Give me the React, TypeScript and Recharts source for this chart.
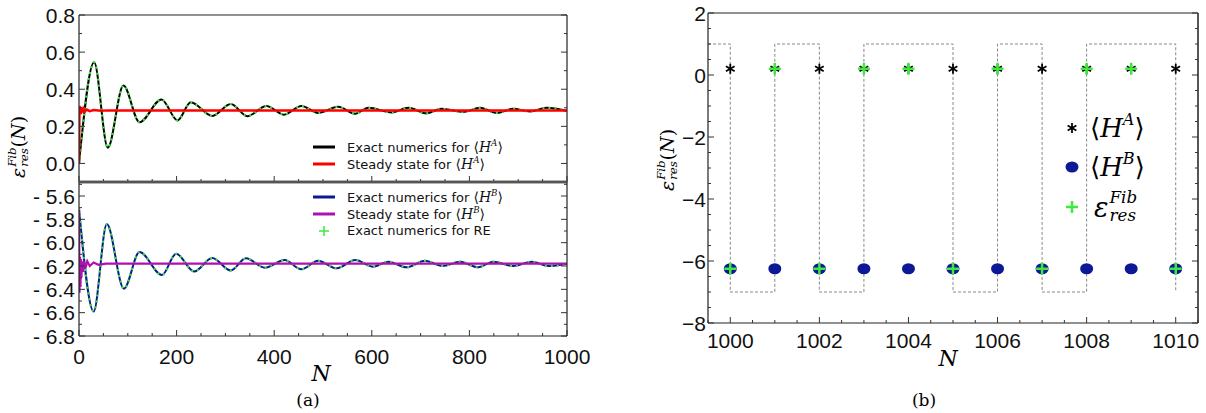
import React from 'react';
import { ComposedChart, Line, Scatter, XAxis, YAxis } from 'recharts';

// (a) upper: exact numerics for <H^A>, read at the peaks and troughs
const nA = [0, 31, 59, 91, 124, 169, 202, 229, 273, 311, 345, 384, 420, 456, 490, 531, 566, 593, 641, 675, 712, 743, 788, 822, 856, 890, 924, 958, 1000];
const hA = [0.0, 0.545, 0.085, 0.42, 0.222, 0.345, 0.232, 0.33, 0.256, 0.32, 0.255, 0.31, 0.263, 0.31, 0.272, 0.305, 0.268, 0.3, 0.275, 0.3, 0.27, 0.295, 0.278, 0.3, 0.272, 0.295, 0.28, 0.3, 0.283];
// steady state for <H^A>
const nSsA = [0, 1, 2, 3, 4, 5, 7, 9, 12, 16, 22, 30, 45, 60, 1000];
const ssA = [0.0, 0.31, 0.27, 0.305, 0.265, 0.3, 0.275, 0.295, 0.28, 0.29, 0.282, 0.288, 0.284, 0.286, 0.285];

// (a) lower: exact numerics for <H^B>
const nB = [0, 30, 57, 92, 124, 170, 199, 236, 273, 311, 342, 381, 421, 456, 490, 528, 566, 603, 634, 671, 709, 745, 781, 818, 849, 890, 928, 962, 1000];
const hB = [-5.71, -6.59, -5.84, -6.395, -6.08, -6.277, -6.095, -6.247, -6.131, -6.238, -6.134, -6.215, -6.149, -6.228, -6.155, -6.22, -6.149, -6.206, -6.163, -6.211, -6.155, -6.2, -6.163, -6.211, -6.163, -6.2, -6.163, -6.2, -6.18];
// steady state for <H^B>
const nSsB = [0, 1, 2, 3, 4, 5, 6, 8, 10, 13, 17, 22, 30, 40, 55, 1000];
const ssB = [-5.72, -6.43, -6.12, -6.38, -6.14, -6.3, -6.16, -6.25, -6.16, -6.22, -6.16, -6.2, -6.17, -6.19, -6.18, -6.18];

// (b) N = 1000 ... 1010
const nFib = [1000, 1001, 1002, 1003, 1004, 1005, 1006, 1007, 1008, 1009, 1010];
const hAFib = [0.2, 0.2, 0.2, 0.2, 0.2, 0.2, 0.2, 0.2, 0.2, 0.2, 0.2];
const hBFib = [-6.25, -6.25, -6.25, -6.25, -6.25, -6.25, -6.25, -6.25, -6.25, -6.25, -6.25];
const reFib = [-6.25, 0.2, -6.25, 0.2, 0.2, -6.25, 0.2, -6.25, 0.2, 0.2, -6.25];
const nStep = [999.5, 1000, 1001, 1002, 1003, 1004, 1005, 1006, 1007, 1008, 1009, 1010];
const stepFib = [1, -7, 1, -7, 1, 1, -7, 1, -7, 1, 1, -7];

// tick labels
const xMajorA = [0, 200, 400, 600, 800, 1000];
const yMajorUp = [0, 0.2, 0.4, 0.6, 0.8];
const yMajorLow = [-6.8, -6.6, -6.4, -6.2, -6.0, -5.8, -5.6];
const xMajorB = [1000, 1002, 1004, 1006, 1008, 1010];
const yMajorB = [-8, -6, -4, -2, 0, 2];

const range = (a: number, b: number, s: number) => {
  const out: number[] = [];
  for (let v = a; v <= b + 1e-9; v += s) out.push(Math.round(v * 1000) / 1000);
  return out;
};
const zip = (xs: number[], ys: number[]) => xs.map((n, i) => ({ n, v: ys[i] }));

const xMinorA = range(0, 1000, 50);
const yMinorUp = range(-0.1, 0.8, 0.1);
const yMinorLow = range(-6.8, -5.5, 0.1);
const xMinorB = range(999.5, 1010.5, 0.5);
const yMinorB = range(-8, 2, 0.5);

const TF = 'Liberation Sans, Arial, sans-serif';
const LF = 'DejaVu Sans, sans-serif';
const SERIF = 'DejaVu Serif, Liberation Serif, serif';
const isMajor = (m: number[], v: number) => m.some((x) => Math.abs(x - v) < 1e-6);

const bottomTick = (majors: number[], fmt?: (v: number) => string, gap = 20, fs = 21) => (p: any) => {
  const v = p.payload.value;
  const mj = isMajor(majors, v);
  return (
    <g>
      <line x1={p.x} x2={p.x} y1={p.y} y2={p.y - (mj ? 6 : 3)} stroke="#333" />
      {fmt && mj ? (
        <text x={p.x} y={p.y + gap} textAnchor="middle" dominantBaseline="central" fontSize={fs} fontFamily={TF} fill="#111">
          {fmt(v)}
        </text>
      ) : null}
    </g>
  );
};
const topTick = (majors: number[]) => (p: any) => {
  const mj = isMajor(majors, p.payload.value);
  return <line x1={p.x} x2={p.x} y1={p.y} y2={p.y + (mj ? 6 : 3)} stroke="#333" />;
};
const leftTick = (majors: number[], fmt: (v: number) => string, gap = 4, fs = 21) => (p: any) => {
  const v = p.payload.value;
  const mj = isMajor(majors, v);
  return (
    <g>
      <line x1={p.x} x2={p.x + (mj ? 6 : 3)} y1={p.y} y2={p.y} stroke="#333" />
      {mj ? (
        <text x={p.x - gap} y={p.y} textAnchor="end" dominantBaseline="central" fontSize={fs} fontFamily={TF} fill="#111">
          {fmt(v)}
        </text>
      ) : null}
    </g>
  );
};
const rightTick = (majors: number[]) => (p: any) => {
  const mj = isMajor(majors, p.payload.value);
  return <line x1={p.x} x2={p.x - (mj ? 6 : 3)} y1={p.y} y2={p.y} stroke="#333" />;
};

const GREEN = '#3ee83e';
const BLUE = '#0c1896';

const Asterisk = (p: any) => {
  const { cx, cy } = p;
  const r = 5;
  return (
    <g stroke="#000" strokeWidth={1.8}>
      <line x1={cx} x2={cx} y1={cy - r} y2={cy + r} />
      <line x1={cx - r * 0.87} x2={cx + r * 0.87} y1={cy - r / 2} y2={cy + r / 2} />
      <line x1={cx - r * 0.87} x2={cx + r * 0.87} y1={cy + r / 2} y2={cy - r / 2} />
    </g>
  );
};
const Plus = (p: any) => {
  const { cx, cy } = p;
  const r = 6;
  return (
    <g stroke={GREEN} strokeWidth={2.5}>
      <line x1={cx - r} x2={cx + r} y1={cy} y2={cy} />
      <line x1={cx} x2={cx} y1={cy - r} y2={cy + r} />
    </g>
  );
};
const Dot = (p: any) => <ellipse cx={p.cx} cy={p.cy} rx={6.5} ry={5.5} fill={BLUE} />;

const Bracket = ({ sup, size }: { sup: string; size: number }) => (
  <span style={{ fontFamily: SERIF, fontSize: size, whiteSpace: 'nowrap' }}>
    ⟨<i>H</i>
    <span style={{ fontSize: size * 0.62, fontStyle: 'italic', position: 'relative', top: -size * 0.45 }}>{sup}</span>⟩
  </span>
);

const Eps = ({ size, paren }: { size: number; paren: boolean }) => (
  <span style={{ fontFamily: SERIF, fontSize: size, whiteSpace: 'nowrap', display: 'inline-flex', alignItems: 'center' }}>
    <i>ε</i>
    <span style={{ display: 'inline-flex', flexDirection: 'column', fontSize: size * 0.62, lineHeight: 1.05, fontStyle: 'italic', marginLeft: 1 }}>
      <span>Fib</span>
      <span>res</span>
    </span>
    {paren ? (
      <span>
        (<i>N</i>)
      </span>
    ) : null}
  </span>
);

const abs = (style: React.CSSProperties): React.CSSProperties => ({ position: 'absolute', ...style });

const LineKey = ({ color }: { color: string }) => (
  <svg width={22} height={8} style={{ marginRight: 12 }}>
    <line x1={0} x2={22} y1={4} y2={4} stroke={color} strokeWidth={3} />
  </svg>
);

const legendRow: React.CSSProperties = { display: 'flex', alignItems: 'center', height: 16.7, fontFamily: LF, fontSize: 13, color: '#111' };

const axisLine = { stroke: '#222', strokeWidth: 1.2 };
const divider = { stroke: '#555', strokeWidth: 2.5 };

export default function App() {
  return (
    <div style={abs({ left: 0, top: 0, width: 1206, height: 413, background: '#fff' })}>
      {/* (a) upper */}
      <div style={abs({ left: 0, top: 0 })}>
        <ComposedChart width={600} height={190} margin={{ top: 14, right: 32, bottom: 7, left: 78 }}>
          <XAxis xAxisId={0} type="number" dataKey="n" domain={[0, 1000]} ticks={xMinorA} interval={0} tickSize={0} tickMargin={0} tickLine={false} height={1} axisLine={divider} tick={bottomTick(xMajorA)} allowDataOverflow />
          <XAxis xAxisId="t" orientation="top" type="number" domain={[0, 1000]} ticks={xMinorA} interval={0} tickSize={0} tickMargin={0} tickLine={false} height={1} axisLine={axisLine} tick={topTick(xMajorA)} allowDataOverflow />
          <YAxis yAxisId={0} type="number" dataKey="v" domain={[-0.1, 0.8]} ticks={yMinorUp} interval={0} tickSize={0} tickMargin={0} tickLine={false} width={1} axisLine={axisLine} tick={leftTick(yMajorUp, (v) => v.toFixed(1))} allowDataOverflow />
          <YAxis yAxisId="r" orientation="right" type="number" domain={[-0.1, 0.8]} ticks={yMinorUp} interval={0} tickSize={0} tickMargin={0} tickLine={false} width={1} axisLine={axisLine} tick={rightTick(yMajorUp)} allowDataOverflow />
          <Line data={zip(nA, hA)} dataKey="v" type="monotone" stroke="#000" strokeWidth={2} dot={false} activeDot={false} isAnimationActive={false} />
          <Line data={zip(nA, hA)} dataKey="v" type="monotone" stroke={GREEN} strokeWidth={2.2} strokeDasharray="2 4" dot={false} activeDot={false} isAnimationActive={false} />
          <Line data={zip(nSsA, ssA)} dataKey="v" type="linear" stroke="#ff0000" strokeWidth={2.5} dot={false} activeDot={false} isAnimationActive={false} />
        </ComposedChart>
      </div>

      {/* (a) lower */}
      <div style={abs({ left: 0, top: 170 })}>
        <ComposedChart width={600} height={200} margin={{ top: 11, right: 32, bottom: 33, left: 78 }}>
          <XAxis xAxisId={0} type="number" dataKey="n" domain={[0, 1000]} ticks={xMinorA} interval={0} tickSize={0} tickMargin={0} tickLine={false} height={1} axisLine={axisLine} tick={bottomTick(xMajorA, (v) => String(v), 20)} allowDataOverflow />
          <XAxis xAxisId="t" orientation="top" type="number" domain={[0, 1000]} ticks={xMinorA} interval={0} tickSize={0} tickMargin={0} tickLine={false} height={1} axisLine={divider} tick={topTick(xMajorA)} allowDataOverflow />
          <YAxis yAxisId={0} type="number" dataKey="v" domain={[-6.8, -5.48]} ticks={yMinorLow} interval={0} tickSize={0} tickMargin={0} tickLine={false} width={1} axisLine={axisLine} tick={leftTick(yMajorLow, (v) => '- ' + Math.abs(v).toFixed(1))} allowDataOverflow />
          <YAxis yAxisId="r" orientation="right" type="number" domain={[-6.8, -5.48]} ticks={yMinorLow} interval={0} tickSize={0} tickMargin={0} tickLine={false} width={1} axisLine={axisLine} tick={rightTick(yMajorLow)} allowDataOverflow />
          <Line data={zip(nB, hB)} dataKey="v" type="monotone" stroke={BLUE} strokeWidth={2} dot={false} activeDot={false} isAnimationActive={false} />
          <Line data={zip(nB, hB)} dataKey="v" type="monotone" stroke={GREEN} strokeWidth={2.2} strokeDasharray="2 4" dot={false} activeDot={false} isAnimationActive={false} />
          <Line data={zip(nSsB, ssB)} dataKey="v" type="linear" stroke="#b010b0" strokeWidth={2.2} dot={false} activeDot={false} isAnimationActive={false} />
        </ComposedChart>
      </div>

      {/* (a) legends */}
      <div style={abs({ left: 313, top: 139 })}>
        <div style={legendRow}>
          <LineKey color="#000" />
          <span>Exact numerics for&nbsp;</span>
          <Bracket sup="A" size={14} />
        </div>
        <div style={legendRow}>
          <LineKey color="#ff0000" />
          <span>Steady state for&nbsp;</span>
          <Bracket sup="A" size={14} />
        </div>
      </div>
      <div style={abs({ left: 313, top: 189 })}>
        <div style={legendRow}>
          <LineKey color={BLUE} />
          <span>Exact numerics for&nbsp;</span>
          <Bracket sup="B" size={14} />
        </div>
        <div style={legendRow}>
          <LineKey color="#b010b0" />
          <span>Steady state for&nbsp;</span>
          <Bracket sup="B" size={14} />
        </div>
        <div style={legendRow}>
          <svg width={22} height={12} style={{ marginRight: 12 }}>
            <line x1={11} x2={11} y1={1} y2={11} stroke={GREEN} strokeWidth={1.5} />
            <line x1={6} x2={16} y1={6} y2={6} stroke={GREEN} strokeWidth={1.5} />
          </svg>
          <span>Exact numerics for RE</span>
        </div>
      </div>

      <div style={abs({ left: 18, top: 147, transform: 'translate(-50%,-50%) rotate(-90deg)' })}>
        <Eps size={19} paren />
      </div>
      <div style={abs({ left: 321, top: 373, transform: 'translate(-50%,-50%)', fontFamily: SERIF, fontSize: 22, fontStyle: 'italic' })}>N</div>
      <div style={abs({ left: 308, top: 400, transform: 'translate(-50%,-50%)', fontFamily: SERIF, fontSize: 17 })}>(a)</div>

      {/* (b) */}
      <div style={abs({ left: 620, top: 0 })}>
        <ComposedChart width={586} height={360} margin={{ top: 12, right: 7, bottom: 36, left: 87 }}>
          <XAxis xAxisId={0} type="number" dataKey="n" domain={[999.5, 1010.5]} ticks={xMinorB} interval={0} tickSize={0} tickMargin={0} tickLine={false} height={1} axisLine={axisLine} tick={bottomTick(xMajorB, (v) => String(v), 17)} allowDataOverflow />
          <XAxis xAxisId="t" orientation="top" type="number" domain={[999.5, 1010.5]} ticks={xMinorB} interval={0} tickSize={0} tickMargin={0} tickLine={false} height={1} axisLine={axisLine} tick={topTick(xMajorB)} allowDataOverflow />
          <YAxis yAxisId={0} type="number" dataKey="v" domain={[-8, 2]} ticks={yMinorB} interval={0} tickSize={0} tickMargin={0} tickLine={false} width={1} axisLine={axisLine} tick={leftTick(yMajorB, (v) => (v < 0 ? '\u2212' + Math.abs(v) : String(v)), 2)} allowDataOverflow />
          <YAxis yAxisId="r" orientation="right" type="number" domain={[-8, 2]} ticks={yMinorB} interval={0} tickSize={0} tickMargin={0} tickLine={false} width={1} axisLine={{ stroke: '#555', strokeWidth: 2 }} tick={rightTick(yMajorB)} allowDataOverflow />
          <Line data={zip(nStep, stepFib)} dataKey="v" type="stepAfter" stroke="#888" strokeWidth={1} strokeDasharray="3 2" dot={false} activeDot={false} isAnimationActive={false} />
          <Scatter data={zip(nFib, hBFib)} dataKey="v" shape={Dot} isAnimationActive={false} />
          <Scatter data={zip(nFib, hAFib)} dataKey="v" shape={Asterisk} isAnimationActive={false} />
          <Scatter data={zip(nFib, reFib)} dataKey="v" shape={Plus} isAnimationActive={false} />
        </ComposedChart>
      </div>

      {/* (b) legend */}
      <div style={abs({ left: 1062, top: 108 })}>
        <div style={{ display: 'flex', alignItems: 'center', height: 39 }}>
          <svg width={20} height={20} style={{ marginRight: 8 }}>
            <Asterisk cx={10} cy={10} />
          </svg>
          <Bracket sup="A" size={26} />
        </div>
        <div style={{ display: 'flex', alignItems: 'center', height: 39 }}>
          <svg width={20} height={20} style={{ marginRight: 8 }}>
            <Dot cx={10} cy={10} />
          </svg>
          <Bracket sup="B" size={26} />
        </div>
        <div style={{ display: 'flex', alignItems: 'center', height: 42 }}>
          <svg width={20} height={20} style={{ marginRight: 12 }}>
            <Plus cx={10} cy={10} />
          </svg>
          <Eps size={27} paren={false} />
        </div>
      </div>

      <div style={abs({ left: 667, top: 160, transform: 'translate(-50%,-50%) rotate(-90deg)' })}>
        <Eps size={19} paren />
      </div>
      <div style={abs({ left: 948, top: 358, transform: 'translate(-50%,-50%)', fontFamily: SERIF, fontSize: 22, fontStyle: 'italic' })}>N</div>
      <div style={abs({ left: 924, top: 400, transform: 'translate(-50%,-50%)', fontFamily: SERIF, fontSize: 17 })}>(b)</div>
    </div>
  );
}
